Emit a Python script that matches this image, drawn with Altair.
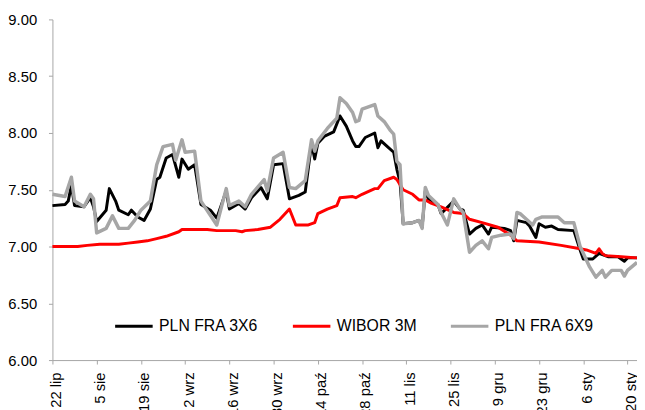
import altair as alt
import pandas as pd

FONT = "Liberation Sans, Arial, Helvetica, sans-serif"

series_names = ["PLN FRA 3X6", "WIBOR 3M", "PLN FRA 6X9"]
series_colors = ["#000000", "#FF0000", "#A6A6A6"]
series_widths = [3, 3, 3.5]

fra3x6_dates = [
    "2013-07-22", "2013-07-26", "2013-07-27", "2013-07-28", "2013-07-29", "2013-08-01",
    "2013-08-03", "2013-08-04", "2013-08-05", "2013-08-08", "2013-08-09", "2013-08-11",
    "2013-08-12", "2013-08-15", "2013-08-16", "2013-08-18", "2013-08-20", "2013-08-22",
    "2013-08-24", "2013-08-25", "2013-08-27", "2013-08-29", "2013-08-31", "2013-09-01",
    "2013-09-03", "2013-09-05", "2013-09-07", "2013-09-10", "2013-09-12", "2013-09-15",
    "2013-09-16", "2013-09-19", "2013-09-21", "2013-09-23", "2013-09-26", "2013-09-28",
    "2013-09-30", "2013-10-03", "2013-10-05", "2013-10-08", "2013-10-10", "2013-10-12",
    "2013-10-13", "2013-10-14", "2013-10-16", "2013-10-19", "2013-10-21", "2013-10-23",
    "2013-10-25", "2013-10-26", "2013-10-27", "2013-10-29", "2013-11-01", "2013-11-02",
    "2013-11-03", "2013-11-05", "2013-11-07", "2013-11-08", "2013-11-09", "2013-11-10",
    "2013-11-13", "2013-11-15", "2013-11-16", "2013-11-17", "2013-11-18", "2013-11-21",
    "2013-11-22", "2013-11-26", "2013-11-28", "2013-11-29", "2013-12-01", "2013-12-03",
    "2013-12-05", "2013-12-07", "2013-12-08", "2013-12-12", "2013-12-14", "2013-12-15",
    "2013-12-16", "2013-12-19", "2013-12-20", "2013-12-22", "2013-12-23", "2013-12-25",
    "2013-12-27", "2013-12-29", "2014-01-03", "2014-01-05", "2014-01-06", "2014-01-09",
    "2014-01-11", "2014-01-14", "2014-01-17", "2014-01-19", "2014-01-20", "2014-01-23",
]
fra3x6_values = [
    7.36, 7.37, 7.40, 7.54, 7.36, 7.35,
    7.43, 7.35, 7.22, 7.32, 7.51, 7.40,
    7.32, 7.28, 7.32, 7.26, 7.23, 7.33,
    7.59, 7.61, 7.78, 7.81, 7.61, 7.77,
    7.68, 7.72, 7.37, 7.32, 7.25, 7.49,
    7.33, 7.38, 7.33, 7.43, 7.52, 7.42,
    7.72, 7.73, 7.42, 7.45, 7.48, 7.91,
    7.77, 7.91, 7.97, 8.01, 8.15, 8.06,
    7.93, 7.88, 7.88, 7.96, 8.00, 7.87,
    7.93, 7.88, 7.83, 7.68, 7.57, 7.20,
    7.21, 7.23, 7.17, 7.49, 7.42, 7.37,
    7.29, 7.40, 7.33, 7.32, 7.11, 7.16,
    7.19, 7.11, 7.17, 7.16, 7.14, 7.05,
    7.23, 7.21, 7.18, 7.08, 7.20, 7.17,
    7.18, 7.15, 7.14, 6.97, 6.89, 6.89,
    6.94, 6.91, 6.91, 6.87, 6.90, 6.90,
]

wibor_dates = [
    "2013-07-22", "2013-07-30", "2013-08-02", "2013-08-06", "2013-08-12", "2013-08-15",
    "2013-08-18", "2013-08-21", "2013-08-24", "2013-08-27", "2013-08-31", "2013-09-01",
    "2013-09-04", "2013-09-09", "2013-09-12", "2013-09-18", "2013-09-20", "2013-09-21",
    "2013-09-25", "2013-09-29", "2013-10-02", "2013-10-05", "2013-10-07", "2013-10-11",
    "2013-10-13", "2013-10-14", "2013-10-17", "2013-10-20", "2013-10-21", "2013-10-25",
    "2013-10-26", "2013-10-28", "2013-11-01", "2013-11-02", "2013-11-04", "2013-11-07",
    "2013-11-08", "2013-11-10", "2013-11-13", "2013-11-15", "2013-11-17", "2013-11-19",
    "2013-11-22", "2013-11-26", "2013-11-29", "2013-12-01", "2013-12-05", "2013-12-10",
    "2013-12-14", "2013-12-16", "2013-12-23", "2013-12-30", "2014-01-05", "2014-01-07",
    "2014-01-10", "2014-01-11", "2014-01-12", "2014-01-13", "2014-01-18", "2014-01-23",
]
wibor_values = [
    7.00, 7.00, 7.01, 7.02, 7.02, 7.03,
    7.04, 7.05, 7.07, 7.09, 7.13, 7.15,
    7.15, 7.15, 7.14, 7.14, 7.13, 7.14,
    7.15, 7.17, 7.24, 7.33, 7.19, 7.19,
    7.21, 7.29, 7.33, 7.36, 7.43, 7.44,
    7.43, 7.46, 7.51, 7.51, 7.58, 7.61,
    7.59, 7.50, 7.46, 7.41, 7.41, 7.38,
    7.35, 7.30, 7.29, 7.24, 7.21, 7.17,
    7.10, 7.05, 7.04, 7.01, 6.98, 6.97,
    6.94, 6.98, 6.94, 6.92, 6.91, 6.90,
]

fra6x9_dates = [
    "2013-07-22", "2013-07-26", "2013-07-28", "2013-07-29", "2013-08-01", "2013-08-03",
    "2013-08-04", "2013-08-05", "2013-08-08", "2013-08-10", "2013-08-12", "2013-08-15",
    "2013-08-17", "2013-08-19", "2013-08-22", "2013-08-24", "2013-08-26", "2013-08-29",
    "2013-08-30", "2013-09-01", "2013-09-02", "2013-09-05", "2013-09-07", "2013-09-12",
    "2013-09-15", "2013-09-16", "2013-09-19", "2013-09-21", "2013-09-23", "2013-09-27",
    "2013-09-28", "2013-09-30", "2013-10-03", "2013-10-05", "2013-10-07", "2013-10-10",
    "2013-10-12", "2013-10-13", "2013-10-14", "2013-10-17", "2013-10-18", "2013-10-20",
    "2013-10-21", "2013-10-23", "2013-10-25", "2013-10-26", "2013-10-27", "2013-10-28",
    "2013-11-01", "2013-11-02", "2013-11-04", "2013-11-06", "2013-11-07", "2013-11-08",
    "2013-11-09", "2013-11-10", "2013-11-13", "2013-11-15", "2013-11-16", "2013-11-17",
    "2013-11-18", "2013-11-21", "2013-11-22", "2013-11-24", "2013-11-26", "2013-11-28",
    "2013-11-29", "2013-12-01", "2013-12-03", "2013-12-05", "2013-12-07", "2013-12-08",
    "2013-12-11", "2013-12-14", "2013-12-15", "2013-12-16", "2013-12-17", "2013-12-19",
    "2013-12-21", "2013-12-22", "2013-12-24", "2013-12-29", "2013-12-31", "2014-01-03",
    "2014-01-05", "2014-01-08", "2014-01-10", "2014-01-12", "2014-01-13", "2014-01-15",
    "2014-01-18", "2014-01-19", "2014-01-20", "2014-01-23",
]
fra6x9_values = [
    7.46, 7.44, 7.61, 7.40, 7.35, 7.46,
    7.42, 7.12, 7.16, 7.27, 7.16, 7.16,
    7.23, 7.32, 7.40, 7.72, 7.88, 7.90,
    7.76, 7.94, 7.83, 7.84, 7.40, 7.19,
    7.51, 7.36, 7.40, 7.35, 7.46, 7.59,
    7.49, 7.78, 7.83, 7.52, 7.51, 7.58,
    7.94, 7.84, 7.93, 8.04, 8.07, 8.13,
    8.31, 8.26, 8.18, 8.10, 8.11, 8.21,
    8.25, 8.15, 8.10, 8.02, 7.99, 7.75,
    7.72, 7.20, 7.21, 7.23, 7.16, 7.52,
    7.45, 7.37, 7.30, 7.19, 7.42, 7.33,
    7.30, 6.95, 7.01, 7.05, 6.98, 7.08,
    7.10, 7.11, 7.07, 7.30, 7.29, 7.24,
    7.19, 7.24, 7.26, 7.26, 7.21, 7.21,
    7.00, 6.82, 6.73, 6.79, 6.73, 6.79,
    6.79, 6.74, 6.79, 6.86,
]

tick_dates = [
    "2013-07-22", "2013-08-05", "2013-08-19", "2013-09-02", "2013-09-16", "2013-09-30",
    "2013-10-14", "2013-10-28", "2013-11-11", "2013-11-25", "2013-12-09", "2013-12-23",
    "2014-01-06", "2014-01-20",
]
month_names_pl = ["sty", "lut", "mar", "kwi", "maj", "cze", "lip", "sie", "wrz", "paź", "lis", "gru"]
y_ticks = [6.0, 6.5, 7.0, 7.5, 8.0, 8.5, 9.0]
x_domain = ["2013-07-22", "2014-01-23"]


def to_dt(s):
    t = pd.Timestamp(s)
    return alt.DateTime(year=t.year, month=t.month, date=t.day, utc=True)


frames = []
for name, dates, vals in [
    (series_names[0], fra3x6_dates, fra3x6_values),
    (series_names[1], wibor_dates, wibor_values),
    (series_names[2], fra6x9_dates, fra6x9_values),
]:
    frames.append(pd.DataFrame({"series": name, "date": dates, "value": vals}))
df = pd.concat(frames, ignore_index=True)

month_js = "[" + ",".join("'" + m + "'" for m in month_names_pl) + "]"

x_enc = alt.X(
    "date:T",
    scale=alt.Scale(domain=[to_dt(d) for d in x_domain], nice=False),
    axis=alt.Axis(
        title=None,
        values=[to_dt(d) for d in tick_dates],
        labelExpr="utcdate(datum.value) + ' ' + " + month_js + "[utcmonth(datum.value)]",
        labelAngle=-90,
        labelAlign="right",
        labelBaseline="middle",
        labelOffset=3,
        labelPadding=8,
        labelFontSize=15,
        labelFont=FONT,
        labelColor="#000000",
        tickSize=4,
        tickColor="#A6A6A6",
        domainColor="#A6A6A6",
        grid=False,
        labelOverlap=False,
    ),
)
y_enc = alt.Y(
    "value:Q",
    scale=alt.Scale(domain=[6, 9], nice=False, zero=False),
    axis=alt.Axis(
        title=None,
        values=y_ticks,
        format=".2f",
        labelFontSize=15,
        labelFont=FONT,
        labelColor="#000000",
        labelPadding=12,
        tickSize=4,
        tickColor="#A6A6A6",
        domainColor="#A6A6A6",
        grid=False,
    ),
)
color_enc = alt.Color(
    "series:N",
    scale=alt.Scale(domain=series_names, range=series_colors),
    legend=alt.Legend(
        title=None,
        orient="none",
        legendX=62,
        legendY=290,
        direction="horizontal",
        symbolType="stroke",
        symbolSize=1444,
        symbolStrokeWidth=3,
        labelFontSize=16,
        labelFont=FONT,
        labelColor="#000000",
        labelOffset=5,
        columnPadding=28,
        padding=0,
    ),
)

layers = []
for name, w in zip(series_names, series_widths):
    layers.append(
        alt.Chart(df)
        .transform_filter(alt.datum.series == name)
        .mark_line(strokeWidth=w, strokeJoin="round")
        .encode(x=x_enc, y=y_enc, color=color_enc)
    )

chart = (
    alt.layer(*layers)
    .properties(
        width=592,
        height=345,
        autosize=alt.AutoSizeParams(type="none"),
        padding={"left": 45, "top": 9, "right": 0, "bottom": 48},
        background="#FFFFFF",
    )
    .configure_view(stroke=None)
)

chart.save("out.html", embed_options={"renderer": "svg", "actions": False})
